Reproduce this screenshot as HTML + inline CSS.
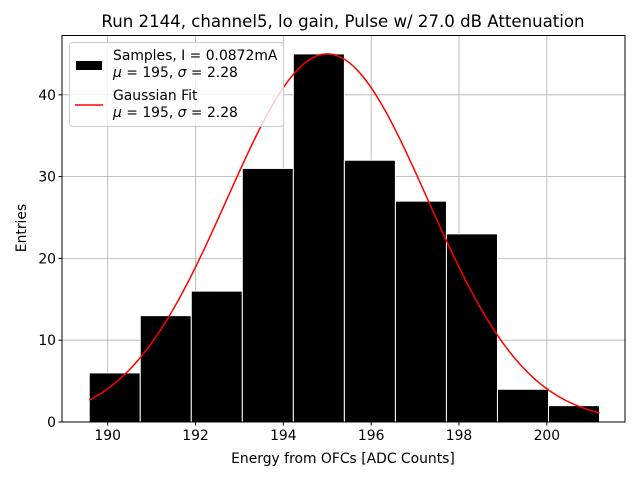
<!DOCTYPE html>
<html><head><meta charset="utf-8"><style>
body{margin:0;background:#fff;}
svg{font-family:"DejaVu Sans","Liberation Sans",sans-serif;}
</style></head><body>
<svg id="c" width="640" height="480" xmlns="http://www.w3.org/2000/svg">
<rect width="640" height="480" fill="#fff"/>
<g id="grid"></g>
<g id="bars"></g>
<g id="fit"></g>
<rect x="62" y="35.5" width="563" height="386.5" fill="none" stroke="#000" stroke-width="1"/>
<g id="ticks" font-size="13.9"></g>
<text x="343" y="27" text-anchor="middle" font-size="16.6">Run 2144, channel5, lo gain, Pulse w/ 27.0 dB Attenuation</text>
<text x="343" y="463" text-anchor="middle" font-size="13.9">Energy from OFCs [ADC Counts]</text>
<text transform="translate(26,228) rotate(-90)" text-anchor="middle" font-size="13.9">Entries</text>
<g>
<rect x="69.5" y="42.5" width="214" height="84" rx="3" fill="#fff" fill-opacity="0.8" stroke="#ccc"/>
<rect x="76" y="61" width="26" height="9" fill="#000"/>
<text x="113" y="60" font-size="13.9">Samples, I = 0.0872mA</text>
<text x="113" y="77" font-size="13.9"><tspan font-style="italic">μ</tspan> = 195, <tspan font-style="italic">σ</tspan> = 2.28</text>
<line x1="75" y1="105" x2="103" y2="105" stroke="red" stroke-width="1.5"/>
<text x="113" y="100" font-size="13.9">Gaussian Fit</text>
<text x="113" y="117" font-size="13.9"><tspan font-style="italic">μ</tspan> = 195, <tspan font-style="italic">σ</tspan> = 2.28</text>
</g>
</svg>
<script>
const counts=[6,13,16,31,45,32,27,23,4,2];
const binStart=189.58, binEnd=201.2;
const xTicks=[190,192,194,196,198,200];
const yTicks=[0,10,20,30,40];
const fitMu=195, fitSigma=2.28, fitAmp=45;
const X0=188.96,X1=201.78,Y0=0,Y1=47.25;
const L=62,R=625,T=35.5,B=422;
const sx=v=>L+(v-X0)/(X1-X0)*(R-L);
const sy=v=>B-(v-Y0)/(Y1-Y0)*(B-T);
const NS="http://www.w3.org/2000/svg";
function mk(t,a,p){const e=document.createElementNS(NS,t);for(const k in a)e.setAttribute(k,a[k]);p.appendChild(e);return e;}
const grid=document.getElementById('grid'),bars=document.getElementById('bars'),fit=document.getElementById('fit'),ticks=document.getElementById('ticks');
xTicks.forEach(v=>{const x=sx(v);
const g=mk('line',{x1:x,x2:x,y1:T,y2:B,stroke:'#b0b0b0','stroke-width':0.8},grid);


mk('line',{x1:x,x2:x,y1:B,y2:B+3.5,stroke:'#000'},ticks);
const t=mk('text',{x:x,y:B+18,'text-anchor':'middle'},ticks);t.textContent=v;

});
yTicks.forEach(v=>{const y=sy(v);
const g=mk('line',{x1:L,x2:R,y1:y,y2:y,stroke:'#b0b0b0','stroke-width':0.8},grid);


mk('line',{x1:L-3.5,x2:L,y1:y,y2:y,stroke:'#000'},ticks);
const t=mk('text',{x:L-6,y:y+5,'text-anchor':'end'},ticks);t.textContent=v;

});
const w=(binEnd-binStart)/counts.length;
counts.forEach((c,i)=>{const x0=sx(binStart+i*w),x1=sx(binStart+(i+1)*w);
const r=mk('rect',{x:x0,y:sy(c),width:x1-x0,height:sy(0)-sy(c),fill:'#000',stroke:'#fff','stroke-width':1},bars);

});
let d='';for(let i=0;i<=200;i++){const v=binStart+(binEnd-binStart)*i/200;const y=fitAmp*Math.exp(-0.5*((v-fitMu)/fitSigma)**2);d+=(i?'L':'M')+sx(v).toFixed(2)+','+sy(y).toFixed(2);}
const p=mk('path',{d:d,fill:'none',stroke:'red','stroke-width':1.5},fit);


</script>
</body></html>
